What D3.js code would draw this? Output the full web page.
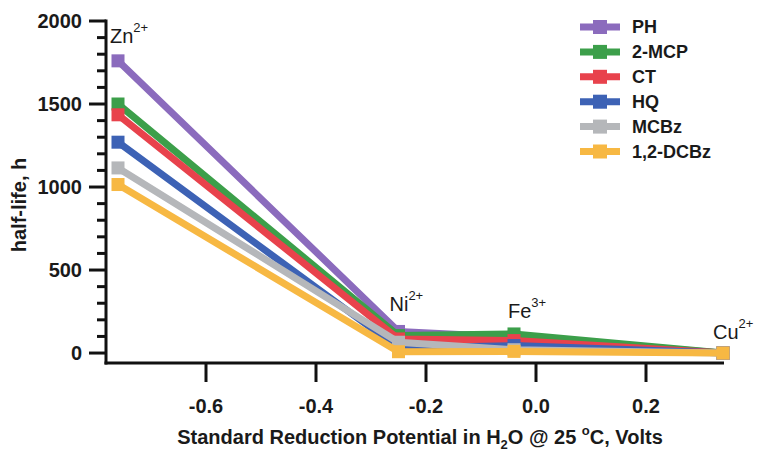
<!DOCTYPE html>
<html>
<head>
<meta charset="utf-8">
<script src="https://cdn.jsdelivr.net/npm/d3@7"></script>
<style>
  body { margin: 0; background: #fff; }
  svg { display: block; }
  text { font-family: "Liberation Sans", Arial, sans-serif; fill: #1a1a1a; }
</style>
</head>
<body>
<svg id="chart" width="764" height="456"></svg>
<script>
// ---- data ----
const ions = ["Zn", "Ni", "Fe", "Cu"];
const ionCharges = ["2+", "2+", "3+", "2+"];
const potentials = [-0.76, -0.25, -0.04, 0.34];
const seriesNames = ["PH", "2-MCP", "CT", "HQ", "MCBz", "1,2-DCBz"];
const PH      = [1760, 130, 95, 0];
const MCP2    = [1500, 105, 115, 0];
const CT      = [1435, 85, 75, 0];
const HQ      = [1270, 30, 45, 0];
const MCBz    = [1115, 65, 20, 0];
const DCBz12  = [1015, 8, 10, 0];
const seriesValues = [PH, MCP2, CT, HQ, MCBz, DCBz12];
const colors = ["#8b6bbd", "#3c9f4a", "#e8424c", "#3d62b5", "#b5b7ba", "#f7b843"];
const xTicks = [-0.6, -0.4, -0.2, 0.0, 0.2];
const yMajorTicks = [0, 500, 1000, 1500, 2000];
const yMinorTicks = d3.range(0, 2001, 100);

// ---- layout ----
const svg = d3.select("#chart");
const x = d3.scaleLinear().domain([-0.78, 0.34]).range([107, 723]);
const y = d3.scaleLinear().domain([-60, 2000]).range([363, 21]);

// series lines + markers (later series on top)
const line = d3.line().x((d, i) => x(potentials[i])).y(d => y(d));
const msize = 13;
seriesValues.forEach((vals, s) => {
  const g = svg.append("g");
  g.append("path")
    .attr("d", line(vals))
    .attr("fill", "none")
    .attr("stroke", colors[s])
    .attr("stroke-width", 7)
    .attr("stroke-linejoin", "miter");
  g.selectAll("rect").data(vals).join("rect")
    .attr("x", (d, i) => x(potentials[i]) - msize / 2)
    .attr("y", d => y(d) - msize / 2)
    .attr("width", msize).attr("height", msize)
    .attr("fill", colors[s]);
});

// axes
const axisColor = "#111";
// y axis
const yAxisG = svg.append("g").attr("transform", "translate(106,0)");
yAxisG.append("line").attr("x1", 0).attr("x2", 0).attr("y1", y(2000) - 1.5).attr("y2", y(-60) + 1.5)
  .attr("stroke", axisColor).attr("stroke-width", 3);
yAxisG.selectAll("line.minor").data(yMinorTicks.filter(v => !yMajorTicks.includes(v))).join("line")
  .attr("class", "minor")
  .attr("x1", -9).attr("x2", 0).attr("y1", d => y(d)).attr("y2", d => y(d))
  .attr("stroke", axisColor).attr("stroke-width", 3);
yAxisG.selectAll("line.major").data(yMajorTicks).join("line")
  .attr("class", "major")
  .attr("x1", -17).attr("x2", 0).attr("y1", d => y(d)).attr("y2", d => y(d))
  .attr("stroke", axisColor).attr("stroke-width", 3);
yAxisG.selectAll("text").data(yMajorTicks).join("text")
  .attr("x", -24).attr("y", d => y(d)).attr("dy", "0.36em")
  .attr("text-anchor", "end")
  .attr("font-size", 20).attr("font-weight", "bold")
  .text(d => d);

// x axis
const xAxisG = svg.append("g").attr("transform", "translate(0,363)");
xAxisG.append("line").attr("x1", 104.5).attr("x2", x(0.34) + 1).attr("y1", 0).attr("y2", 0)
  .attr("stroke", axisColor).attr("stroke-width", 3);
xAxisG.selectAll("line.tick").data(xTicks).join("line")
  .attr("class", "tick")
  .attr("x1", d => x(d)).attr("x2", d => x(d)).attr("y1", 0).attr("y2", 19)
  .attr("stroke", axisColor).attr("stroke-width", 3);
xAxisG.selectAll("text").data(xTicks).join("text")
  .attr("x", d => x(d)).attr("y", 50)
  .attr("text-anchor", "middle")
  .attr("font-size", 20).attr("font-weight", "bold")
  .text(d => d.toFixed(1));

// axis titles
const xt = svg.append("text")
  .attr("x", 420).attr("y", 444)
  .attr("text-anchor", "middle")
  .attr("font-size", 20).attr("font-weight", "bold");
xt.append("tspan").text("Standard Reduction Potential in H");
xt.append("tspan").attr("font-size", 13).attr("dy", 5).text("2");
xt.append("tspan").attr("dy", -5).text("O @ 25 ");
xt.append("tspan").attr("font-size", 13).attr("dy", -9).text("o");
xt.append("tspan").attr("dy", 9).text("C, Volts");

svg.append("text")
  .attr("transform", "translate(26,205) rotate(-90)")
  .attr("text-anchor", "middle")
  .attr("font-size", 20).attr("font-weight", "bold")
  .text("half-life, h");

// ion labels
const ionLabelPos = [
  { dx: -8, y: 43 },
  { dx: -9, y: 311 },
  { dx: -6, y: 318 },
  { dx: -10, y: 339 }
];
ions.forEach((ion, i) => {
  const t = svg.append("text")
    .attr("x", x(potentials[i]) + ionLabelPos[i].dx)
    .attr("y", ionLabelPos[i].y)
    .attr("font-size", 20);
  t.append("tspan").text(ion);
  t.append("tspan").attr("font-size", 13).attr("dy", -11).text(ionCharges[i]);
});

// legend
const legend = svg.append("g");
seriesNames.forEach((name, i) => {
  const cy = 27 + i * 24.9;
  legend.append("line").attr("x1", 580).attr("x2", 620).attr("y1", cy).attr("y2", cy)
    .attr("stroke", colors[i]).attr("stroke-width", 7);
  legend.append("rect").attr("x", 600 - 7).attr("y", cy - 7).attr("width", 14).attr("height", 14)
    .attr("fill", colors[i]);
  legend.append("text").attr("x", 632).attr("y", cy).attr("dy", "0.36em")
    .attr("font-size", 18).attr("font-weight", "bold")
    .text(name);
});
</script>
</body>
</html>
